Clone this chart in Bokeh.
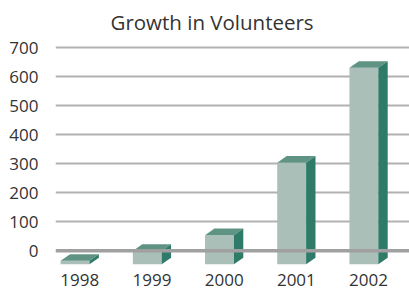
from bokeh.plotting import figure
from bokeh.models import FixedTicker, Span, Range1d
from bokeh.embed import file_html
from bokeh.resources import INLINE

# ---- data ----
years = ["1998", "1999", "2000", "2001", "2002"]
volunteers = [12, 46, 100, 350, 677]
y_ticks = [0, 100, 200, 300, 400, 500, 600, 700]

# ---- 3D geometry (in data units) ----
bar_w = 0.40      # front face width
dep_x = 0.13      # depth shift in x
dep_y = 23.0      # depth shift in y
floor = -47.0     # front floor level

FRONT = "#A9BFB7"
TOP = "#5F9484"
SIDE = "#2F7A68"
FONT = "Open Sans"

p = figure(width=409, height=291, output_backend="svg", toolbar_location=None,
           x_range=Range1d(-0.336, 4.567), y_range=Range1d(-140.7, 720.7),
           min_border_left=55, min_border_right=0, min_border_top=40, min_border_bottom=0,
           outline_line_color=None, background_fill_color="white", border_fill_color="white")

p.title.text = "Growth in Volunteers"
p.title.text_font = FONT
p.title.text_font_size = "20.5px"
p.title.text_font_style = "normal"
p.title.text_color = "#333333"
p.title.align = "left"
p.title.offset = 55
p.title.standoff = 11

# grid
p.xgrid.grid_line_color = None
p.ygrid.ticker = FixedTicker(ticks=y_ticks[1:])
p.ygrid.grid_line_color = "#B2B2B2"
p.ygrid.grid_line_width = 2
p.add_layout(Span(location=0, dimension="width", line_color="#A0A0A0", line_width=3.5))

# bars
n = len(years)
lefts = [i - dep_x / 2 - bar_w / 2 for i in range(n)]
rights = [l + bar_w for l in lefts]
tops = [v + floor for v in volunteers]
bottoms = [floor] * n

p.quad(left=lefts, right=rights, bottom=bottoms, top=tops, fill_color=FRONT, line_color=None)

top_xs = [[l, r, r + dep_x, l + dep_x] for l, r in zip(lefts, rights)]
top_ys = [[t, t, t + dep_y, t + dep_y] for t in tops]
p.patches(top_xs, top_ys, fill_color=TOP, line_color=None)

side_xs = [[r, r + dep_x, r + dep_x, r] for r in rights]
side_ys = [[b, b + dep_y, t + dep_y, t] for b, t in zip(bottoms, tops)]
p.patches(side_xs, side_ys, fill_color=SIDE, line_color=None)

# axes
for ax in (p.xaxis, p.yaxis):
    ax.axis_line_color = None
    ax.major_tick_line_color = None
    ax.minor_tick_line_color = None
    ax.major_tick_out = 0
    ax.major_tick_in = 0
    ax.minor_tick_out = 0
    ax.minor_tick_in = 0
    ax.major_label_text_font = FONT
    ax.major_label_text_font_size = "17px"
    ax.major_label_text_color = "#333333"

p.yaxis.ticker = FixedTicker(ticks=y_ticks)
p.yaxis.major_label_standoff = 17

p.xaxis.ticker = FixedTicker(ticks=list(range(n)))
p.xaxis.major_label_overrides = {i: y for i, y in enumerate(years)}
p.xaxis.fixed_location = floor
p.xaxis.major_label_standoff = 10

open("out.html", "w").write(file_html(p, INLINE))
